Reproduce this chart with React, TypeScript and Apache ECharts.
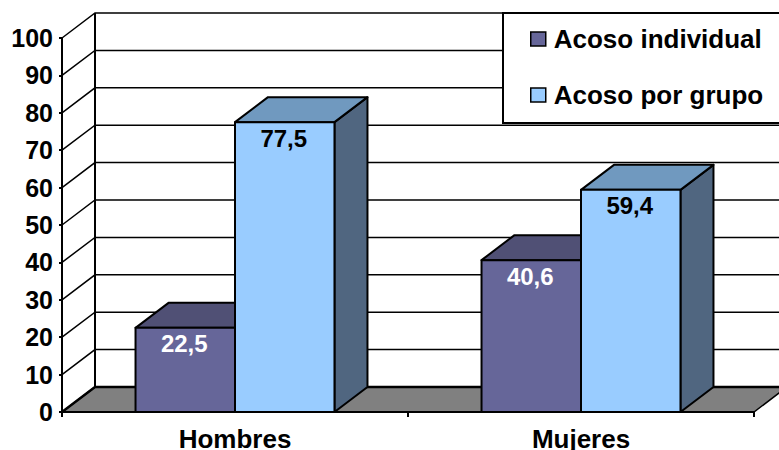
import React, { useEffect, useRef } from "react";
import * as echarts from "echarts";

const categories = ["Hombres", "Mujeres"];
const individualValues = [22.5, 40.6];
const groupValues = [77.5, 59.4];
const yTicks = [0, 10, 20, 30, 40, 50, 60, 70, 80, 90, 100];
const seriesNames = ["Acoso individual", "Acoso por grupo"];

const FONT = "'Liberation Sans', Arial, sans-serif";
const DX = 33;
const DY = 25;

const wallItem = (params: any, api: any) => {
  const v = api.value(0);
  const [, y] = api.coord([0, v]);
  const cs = params.coordSys;
  const left = cs.x;
  const right = cs.x + cs.width;
  const children: any[] = [];
  if (v === 0) {
    children.push({
      type: "polygon",
      shape: { points: [[left, y], [left + DX, y - DY], [right + DX, y - DY], [right, y]] },
      style: { fill: "#808080", stroke: "#000", lineWidth: 1.5 },
    });
    children.push({
      type: "line",
      shape: { x1: left + DX, y1: y - DY, x2: left + DX, y2: y - DY - cs.height },
      style: { stroke: "#000", lineWidth: 2 },
    });
  }
  children.push({
    type: "polyline",
    shape: { points: [[left, y], [left + DX, y - DY], [right + DX, y - DY]] },
    style: { fill: "none", stroke: "#000", lineWidth: v === 0 ? 2.5 : 1.5 },
  });
  return { type: "group", children };
};

const barItem = (side: number, topFill: string, sideFill: string, labelFill: string) =>
  (_params: any, api: any) => {
    const cat = api.value(0);
    const val = api.value(1);
    const [cx, y1] = api.coord([cat, val]);
    const [, y0] = api.coord([cat, 0]);
    const w = api.size([1, 0])[0] * 0.2875;
    const x0 = side === 0 ? cx - w : cx;
    const x1 = x0 + w;
    const stroke = { stroke: "#000", lineWidth: 2, lineJoin: "round" };
    return {
      type: "group",
      children: [
        {
          type: "polygon",
          shape: { points: [[x1, y0], [x1 + DX, y0 - DY], [x1 + DX, y1 - DY], [x1, y1]] },
          style: { fill: sideFill, ...stroke },
        },
        {
          type: "polygon",
          shape: { points: [[x0, y1], [x0 + DX, y1 - DY], [x1 + DX, y1 - DY], [x1, y1]] },
          style: { fill: topFill, ...stroke },
        },
        {
          type: "rect",
          shape: { x: x0, y: y1, width: w, height: y0 - y1 },
          style: { fill: api.visual("color"), ...stroke },
        },
        {
          type: "text",
          x: (x0 + x1) / 2 - 1,
          y: y1 + 16,
          style: {
            text: String(val).replace(".", ","),
            fill: labelFill,
            font: `bold 24px ${FONT}`,
            textAlign: "center",
            textVerticalAlign: "middle",
          },
        },
      ],
    };
  };

export default function App() {
  const ref = useRef<HTMLDivElement>(null);
  useEffect(() => {
    document.body.style.margin = "0";
    const chart = echarts.init(ref.current!, undefined, { renderer: "svg" });
    chart.setOption({
      animation: false,
      backgroundColor: "#fff",
      grid: { left: 62, right: 25, top: 38, bottom: 38, outerBoundsMode: "none" },
      xAxis: {
        type: "category",
        data: categories,
        z: 6,
        axisLine: { lineStyle: { color: "#000", width: 2 } },
        axisTick: { show: true, length: 5, lineStyle: { color: "#000", width: 2 } },
        axisLabel: { color: "#000", fontFamily: FONT, fontWeight: "bold", fontSize: 26, lineHeight: 20, margin: 17 },
      },
      yAxis: {
        type: "value",
        min: 0,
        max: 100,
        interval: 10,
        z: 6,
        splitLine: { show: false },
        axisLine: { show: true, lineStyle: { color: "#000", width: 2 } },
        axisTick: { show: true, length: 3, lineStyle: { color: "#000", width: 2 } },
        axisLabel: { color: "#000", fontFamily: FONT, fontWeight: "bold", fontSize: 25, margin: 9 },
      },
      legend: {
        data: seriesNames,
        orient: "vertical",
        left: 503,
        top: 13,
        padding: [13, 60, 15, 27],
        itemWidth: 15,
        itemHeight: 14,
        itemGap: 30,
        icon: "rect",
        backgroundColor: "#fff",
        borderColor: "#000",
        borderWidth: 2,
        z: 8,
        itemStyle: { borderColor: "#000", borderWidth: 1.5 },
        textStyle: { color: "#000", fontFamily: FONT, fontWeight: "bold", fontSize: 26, padding: [0, 0, 0, 3] },
        selectedMode: false,
      },
      series: [
        {
          type: "custom",
          name: "walls",
          z: 1,
          silent: true,
          data: yTicks.map((t) => [t]),
          encode: { y: 0 },
          renderItem: wallItem,
        },
        {
          type: "custom",
          name: seriesNames[0],
          z: 2,
          itemStyle: { color: "#666699" },
          data: individualValues.map((v, i) => [i, v]),
          encode: { x: 0, y: 1 },
          renderItem: barItem(0, "#505075", "#505075", "#fff"),
        },
        {
          type: "custom",
          name: seriesNames[1],
          z: 3,
          itemStyle: { color: "#99CCFF" },
          data: groupValues.map((v, i) => [i, v]),
          encode: { x: 0, y: 1 },
          renderItem: barItem(1, "#7099BF", "#506680", "#000"),
        },
      ],
    });
    return () => chart.dispose();
  }, []);
  return <div ref={ref} style={{ width: 779, height: 450 }} />;
}
